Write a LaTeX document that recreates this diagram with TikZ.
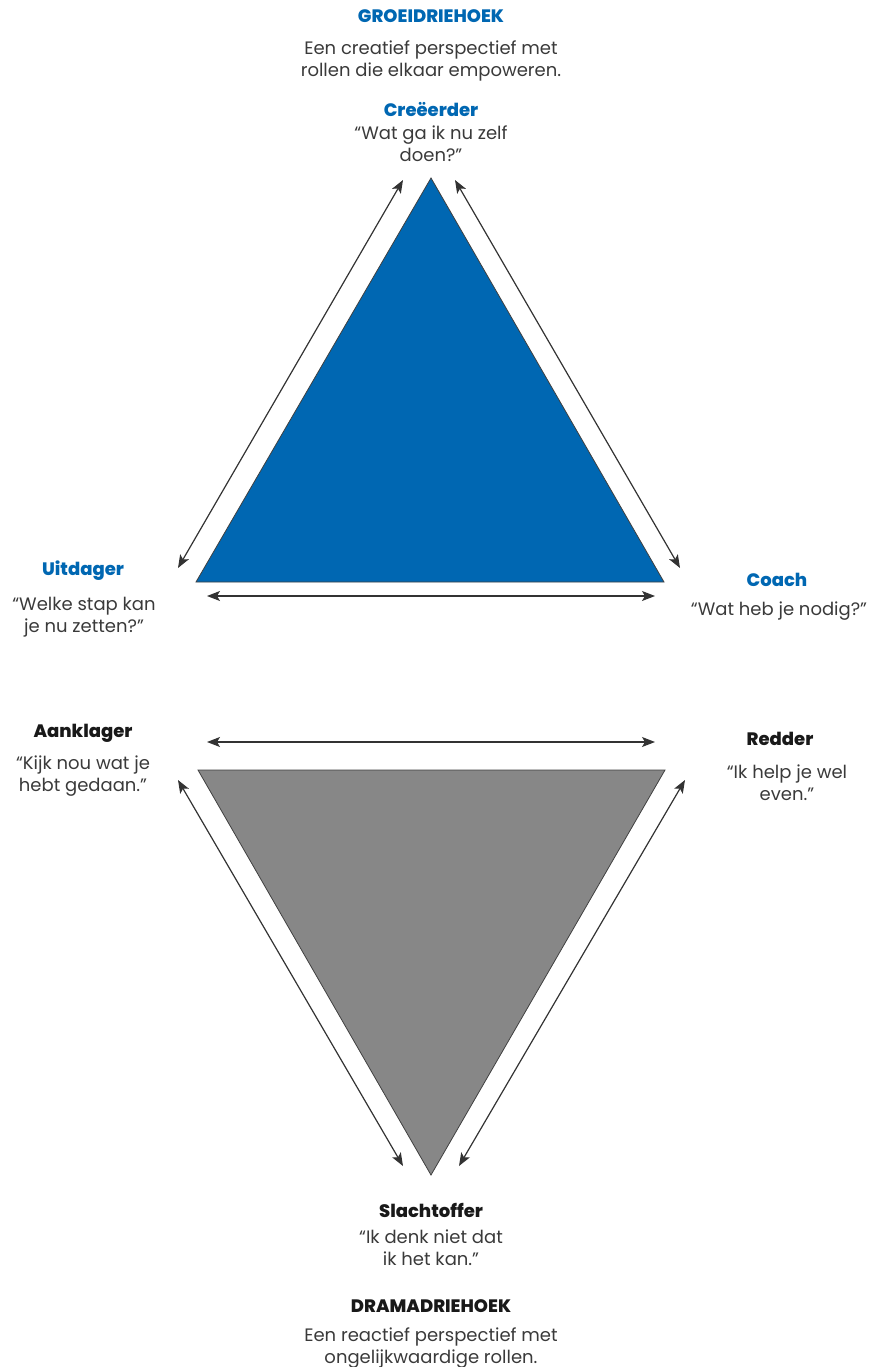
\documentclass[tikz,border=0pt]{standalone}
\usepackage{fontspec}
\setmainfont{Poppins}[BoldFont={Poppins ExtraBold}]
\usepackage{tikz}
\usetikzlibrary{calc}
\usetikzlibrary{arrows.meta}

\definecolor{growBlue}{RGB}{0,103,178}
\definecolor{dramaGrey}{RGB}{135,135,135}
\definecolor{textGrey}{RGB}{58,58,58}
\definecolor{titleBlack}{RGB}{25,25,25}

\begin{document}
\begin{tikzpicture}[x=1pt,y=-1pt,
	roleArrow/.style={{Stealth[length=13pt,width=10pt,inset=3pt]}-{Stealth[length=13pt,width=10pt,inset=3pt]}, line width=1.2pt, draw=black!80},
	headText/.style={font=\fontsize{18}{20}\selectfont\bfseries, inner sep=0pt, anchor=base},
	quoteText/.style={font=\fontsize{18}{22}\selectfont, text=textGrey, align=center, inner sep=0pt, anchor=base},
	]

	\useasboundingbox (0,0) rectangle (872,1367);

	% growth triangle
	\coordinate (growApex) at (431,178);
	\coordinate (growLeft) at (196,582);
	\coordinate (growRight) at (664,582);
	\filldraw [fill=growBlue, draw=black!75, line width=0.8pt] (growApex) -- (growLeft) -- (growRight) -- cycle;

	% drama triangle
	\coordinate (dramaLeft) at (198,770);
	\coordinate (dramaRight) at (665,770);
	\coordinate (dramaApex) at (431,1175);
	\filldraw [fill=dramaGrey, draw=black!75, line width=0.8pt] (dramaLeft) -- (dramaRight) -- (dramaApex) -- cycle;

	% arrows round the growth triangle
	\coordinate (growArrowTopL) at (403,180);
	\coordinate (growArrowLeftU) at (178,568);
	\coordinate (growArrowTopR) at (455,180);
	\coordinate (growArrowRightU) at (680,568);
	\coordinate (growArrowBaseL) at (207,596);
	\coordinate (growArrowBaseR) at (655,596);
	\draw [roleArrow] (growArrowTopL) -- (growArrowLeftU);
	\draw [roleArrow] (growArrowTopR) -- (growArrowRightU);
	\draw [roleArrow] (growArrowBaseL) -- (growArrowBaseR);

	% arrows round the drama triangle
	\coordinate (dramaArrowTopL) at (207,742);
	\coordinate (dramaArrowTopR) at (655,742);
	\coordinate (dramaArrowLeftD) at (178,780);
	\coordinate (dramaArrowApexL) at (403,1166);
	\coordinate (dramaArrowRightD) at (685,780);
	\coordinate (dramaArrowApexR) at (459,1166);
	\draw [roleArrow] (dramaArrowTopL) -- (dramaArrowTopR);
	\draw [roleArrow] (dramaArrowLeftD) -- (dramaArrowApexL);
	\draw [roleArrow] (dramaArrowRightD) -- (dramaArrowApexR);

	% growth texts (quote nodes sit on the baseline of their last line)
	\node [headText, text=growBlue] (groeiTitle) at (431,23) {GROEIDRIEHOEK};
	\node [quoteText] (groeiSub) at (431,77) {Een creatief perspectief met\\rollen die elkaar empoweren.};
	\node [headText, text=growBlue] (creeerder) at (431,117) {Creëerder};
	\node [quoteText] (creeerderQuote) at (431,162) {“Wat ga ik nu zelf\\doen?”};
	\node [headText, text=growBlue] (uitdager) at (83,575) {Uitdager};
	\node [quoteText] (uitdagerQuote) at (84,632) {“Welke stap kan\\je nu zetten?”};
	\node [headText, text=growBlue] (coach) at (777,586) {Coach};
	\node [quoteText] (coachQuote) at (779,615) {“Wat heb je nodig?”};

	% drama texts
	\node [headText, text=titleBlack] (aanklager) at (83,737) {Aanklager};
	\node [quoteText] (aanklagerQuote) at (83,791) {“Kijk nou wat je\\hebt gedaan.”};
	\node [headText, text=titleBlack] (redder) at (780,745) {Redder};
	\node [quoteText] (redderQuote) at (787,800) {“Ik help je wel\\even.”};
	\node [headText, text=titleBlack] (slachtoffer) at (431,1217) {Slachtoffer};
	\node [quoteText] (slachtofferQuote) at (431,1265) {“Ik denk niet dat\\ik het kan.”};
	\node [headText, text=titleBlack] (dramaTitle) at (431,1312) {DRAMADRIEHOEK};
	\node [quoteText] (dramaSub) at (431,1363) {Een reactief perspectief met\\ongelijkwaardige rollen.};

\end{tikzpicture}
\end{document}
